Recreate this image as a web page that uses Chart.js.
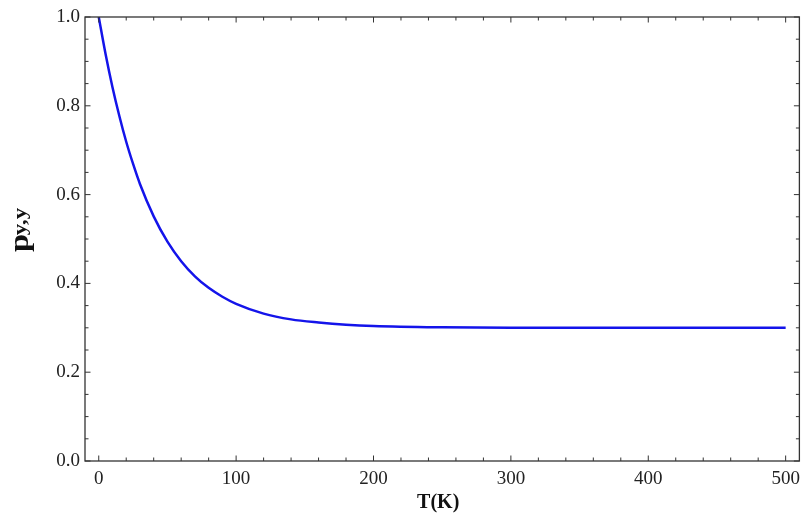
<!DOCTYPE html>
<html>
<head>
<meta charset="utf-8">
<script src="https://cdn.jsdelivr.net/npm/chart.js@4.4.1/dist/chart.umd.min.js"></script>
<style>
  html, body { margin: 0; padding: 0; background: #fff; }
  #wrap { width: 807px; height: 516px; }
</style>
</head>
<body>
<div id="wrap"><canvas id="chart" width="807" height="516"></canvas></div>
<script>
// values
const tempK = [0, 5, 10, 15, 20, 25, 30, 40, 50, 60, 70, 80, 90, 100, 120, 140, 160, 180, 200, 250, 300, 400, 500];
const pyy = [1.0, 0.916, 0.842, 0.777, 0.719, 0.669, 0.624, 0.551, 0.494, 0.450, 0.416, 0.390, 0.370, 0.354,
             0.332, 0.319, 0.312, 0.307, 0.304, 0.301, 0.300, 0.300, 0.300];

const xMajor = [0, 100, 200, 300, 400, 500];
const xMinor = [20, 40, 60, 80, 120, 140, 160, 180, 220, 240, 260, 280, 320, 340, 360, 380, 420, 440, 460, 480];
const yMajor = [0, 0.2, 0.4, 0.6, 0.8, 1.0];
const yMinor = [0.05, 0.1, 0.15, 0.25, 0.3, 0.35, 0.45, 0.5, 0.55, 0.65, 0.7, 0.75, 0.85, 0.9, 0.95];

const SERIF = '"Liberation Serif", "DejaVu Serif", serif';
const FRAME = '#333333';

// frame, inward ticks on all four sides, axis titles
const framePlugin = {
    id: 'frame',
    afterDraw(chart) {
        const { ctx, chartArea: a, scales: { x, y } } = chart;
        ctx.save();
        ctx.strokeStyle = FRAME;
        ctx.lineWidth = 1.3;
        ctx.strokeRect(a.left, a.top, a.right - a.left, a.bottom - a.top);

        ctx.lineWidth = 1;
        ctx.beginPath();
        const xt = (vals, len) => vals.forEach(v => {
            const px = x.getPixelForValue(v);
            ctx.moveTo(px, a.bottom); ctx.lineTo(px, a.bottom - len);
            ctx.moveTo(px, a.top); ctx.lineTo(px, a.top + len);
        });
        const yt = (vals, len) => vals.forEach(v => {
            const py = y.getPixelForValue(v);
            ctx.moveTo(a.left, py); ctx.lineTo(a.left + len, py);
            ctx.moveTo(a.right, py); ctx.lineTo(a.right - len, py);
        });
        xt(xMajor, 5.5); xt(xMinor, 3.5);
        yt(yMajor, 5.5); yt(yMinor, 3.5);
        ctx.stroke();

        ctx.fillStyle = '#111';
        ctx.font = 'bold 20px ' + SERIF;
        ctx.textAlign = 'center';
        ctx.textBaseline = 'alphabetic';
        ctx.fillText('T(K)', (a.left + a.right) / 2 - 4, 508);

        // y title with subscript
        ctx.translate(28, 252);
        ctx.rotate(-Math.PI / 2);
        ctx.scale(1.2, 1);
        ctx.textAlign = 'left';
        ctx.font = 'bold 27px ' + SERIF;
        ctx.fillText('p', 0, 0);
        const w = ctx.measureText('p').width;
        ctx.font = 'bold 19px ' + SERIF;
        ctx.fillText('y,y', w - 1, -2);
        ctx.restore();
    }
};

new Chart(document.getElementById('chart'), {
    type: 'line',
    data: {
        datasets: [{
            data: tempK.map((t, i) => ({ x: t, y: pyy[i] })),
            borderColor: '#1414ea',
            borderWidth: 2.5,
            pointRadius: 0,
            fill: false,
            cubicInterpolationMode: 'monotone'
        }]
    },
    options: {
        responsive: false,
        animation: false,
        layout: { padding: { top: 17, right: 5, left: 0, bottom: 0 } },
        plugins: { legend: { display: false }, tooltip: { enabled: false } },
        scales: {
            x: {
                type: 'linear', min: -10, max: 510,
                afterBuildTicks: s => { s.ticks = xMajor.map(v => ({ value: v })); },
                afterFit: s => { s.height = 55; },
                grid: { display: false, drawTicks: false },
                border: { display: false },
                ticks: { padding: 7, color: '#222', font: { family: SERIF, size: 19 }, maxRotation: 0 }
            },
            y: {
                min: 0, max: 1,
                afterBuildTicks: s => { s.ticks = yMajor.map(v => ({ value: v })); },
                afterFit: s => { s.width = 85; },
                grid: { display: false, drawTicks: false },
                border: { display: false },
                ticks: { padding: 5, color: '#222', font: { family: SERIF, size: 19 },
                    callback: v => v.toFixed(1) }
            }
        }
    },
    plugins: [framePlugin]
});
</script>
</body>
</html>
